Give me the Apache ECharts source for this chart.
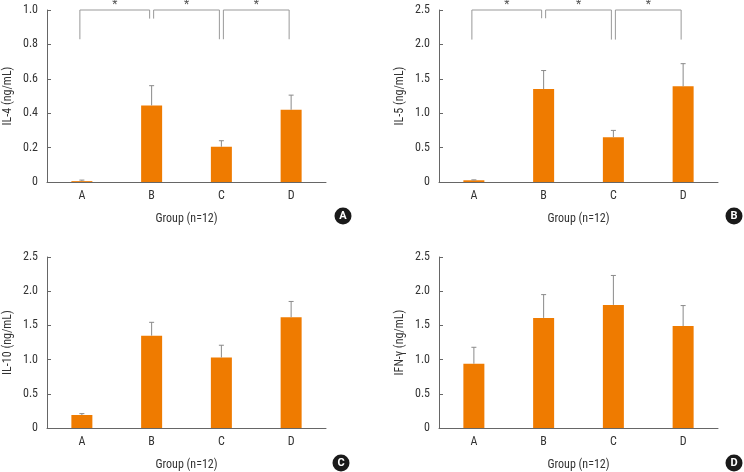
<!DOCTYPE html>
<html>
<head>
<meta charset="utf-8">
<script src="https://cdn.jsdelivr.net/npm/echarts@6/dist/echarts.min.js"></script>
<style>
  html, body { margin: 0; padding: 0; background: #fff; }
  #chart { width: 744px; height: 472px; }
</style>
</head>
<body>
<div id="chart"></div>
<script>
var categories = ["A", "B", "C", "D"];

var il4Mean = [0.005, 0.445, 0.205, 0.42];
var il4Sd = [0.006, 0.115, 0.035, 0.085];
var il5Mean = [0.025, 1.35, 0.65, 1.39];
var il5Sd = [0.006, 0.27, 0.1, 0.33];
var il10Mean = [0.19, 1.35, 1.03, 1.62];
var il10Sd = [0.02, 0.195, 0.18, 0.23];
var ifnMean = [0.94, 1.61, 1.80, 1.49];
var ifnSd = [0.24, 0.34, 0.43, 0.30];

// brackets: [from, to, top, left leg end, right leg end]
var il4Brackets = [[0, 1, 1.0, 0.83, 0.95], [1, 2, 1.0, 0.95, 0.83], [2, 3, 1.0, 0.83, 0.83]];
var il5Brackets = [[0, 1, 2.5, 2.07, 2.38], [1, 2, 2.5, 2.38, 2.07], [2, 3, 2.5, 2.07, 2.07]];

var panels = [
  {name: "IL-4 (ng/mL)", mean: il4Mean, sd: il4Sd, max: 1.0, step: 0.2, brackets: il4Brackets, letter: "A"},
  {name: "IL-5 (ng/mL)", mean: il5Mean, sd: il5Sd, max: 2.5, step: 0.5, brackets: il5Brackets, letter: "B"},
  {name: "IL-10 (ng/mL)", mean: il10Mean, sd: il10Sd, max: 2.5, step: 0.5, brackets: [], letter: "C"},
  {name: "IFN-\u03b3 (ng/mL)", mean: ifnMean, sd: ifnSd, max: 2.5, step: 0.5, brackets: [], letter: "D"}
];

var FONT = "'Liberation Sans Narrow', 'Roboto Condensed', Roboto, sans-serif";
var BAR_COLOR = "#EF7B00";
var AXIS_COLOR = "#666";
var GRAY = "#8a8a8a";

var gridPos = [
  {left: 47, top: 10},
  {left: 439, top: 10},
  {left: 47, top: 257},
  {left: 439, top: 257}
];
var badgePos = [[343, 216], [734, 216], [341, 463], [734, 463]];

var grids = [], xAxes = [], yAxes = [], series = [], graphics = [];

function errorRender(params, api) {
  var x = api.value(0);
  var top = api.coord([x, api.value(1) + api.value(2)]);
  var base = api.coord([x, api.value(1)]);
  var s = {stroke: GRAY, lineWidth: 1};
  return {
    type: "group",
    children: [
      {type: "line", shape: {x1: top[0], y1: base[1], x2: top[0], y2: top[1]}, style: s},
      {type: "line", shape: {x1: top[0] - 2.5, y1: top[1], x2: top[0] + 2.5, y2: top[1]}, style: s}
    ]
  };
}

function bracketRender(params, api) {
  var a = api.coord([api.value(0), api.value(2)]);
  var b = api.coord([api.value(1), api.value(2)]);
  var la = api.coord([api.value(0), api.value(3)]);
  var rb = api.coord([api.value(1), api.value(4)]);
  var x1 = a[0] + (api.value(0) === 0 ? -2 : 2);
  var x2 = b[0] - 2;
  var s = {stroke: "#999", lineWidth: 1, fill: null};
  return {
    type: "group",
    children: [
      {type: "polyline", shape: {points: [[x1, la[1]], [x1, a[1]], [x2, a[1]], [x2, rb[1]]]}, style: s},
      {type: "text", style: {text: "*", x: (x1 + x2) / 2, y: a[1] + 1, align: "center", verticalAlign: "bottom",
        fill: "#555", font: "12px " + FONT}}
    ]
  };
}

panels.forEach(function(p, i) {
  grids.push({left: gridPos[i].left, top: gridPos[i].top, width: 279, height: 172});
  xAxes.push({
    type: "category", gridIndex: i, data: categories,
    name: "Group (n=12)", nameLocation: "middle", nameGap: 31,
    nameTextStyle: {fontFamily: FONT, fontSize: 12, color: "#333"},
    axisLine: {lineStyle: {color: AXIS_COLOR}},
    axisTick: {show: false},
    axisLabel: {fontFamily: FONT, fontSize: 12, color: "#333", margin: 8}
  });
  yAxes.push({
    type: "value", gridIndex: i, min: 0, max: p.max, interval: p.step,
    name: p.name, nameLocation: "middle", nameGap: 33, nameRotate: 90,
    nameTextStyle: {fontFamily: FONT, fontSize: 12, color: "#333"},
    axisLine: {show: true, lineStyle: {color: AXIS_COLOR}},
    axisTick: {show: true, inside: true, length: 4, lineStyle: {color: AXIS_COLOR}},
    splitLine: {show: false},
    axisLabel: {fontFamily: FONT, fontSize: 12, color: "#333", margin: 9,
      formatter: function(v) { return v === 0 ? "0" : v.toFixed(1); }}
  });
  series.push({
    type: "bar", xAxisIndex: i, yAxisIndex: i, data: p.mean,
    barWidth: 21, itemStyle: {color: BAR_COLOR}, silent: true
  });
  series.push({
    type: "custom", xAxisIndex: i, yAxisIndex: i, renderItem: errorRender,
    encode: {x: 0, y: 1}, clip: false, z: 3,
    data: p.mean.map(function(m, k) { return [k, m, p.sd[k]]; })
  });
  if (p.brackets.length) {
    series.push({
      type: "custom", xAxisIndex: i, yAxisIndex: i, renderItem: bracketRender,
      encode: {x: [0, 1], y: 2}, clip: false, z: 4,
      data: p.brackets
    });
  }
  graphics.push({
    type: "group", x: badgePos[i][0], y: badgePos[i][1],
    children: [
      {type: "circle", shape: {cx: 0, cy: 0, r: 8.5}, style: {fill: "#1a1a1a"}},
      {type: "text", style: {text: p.letter, x: 0, y: 0.5, align: "center", verticalAlign: "middle",
        fill: "#fff", font: "bold 11px Roboto, sans-serif"}}
    ]
  });
});

var chart = echarts.init(document.getElementById("chart"), null, {renderer: "canvas"});
chart.setOption({
  animation: false,
  backgroundColor: "#fff",
  grid: grids,
  xAxis: xAxes,
  yAxis: yAxes,
  series: series,
  graphic: graphics
});
</script>
</body>
</html>
